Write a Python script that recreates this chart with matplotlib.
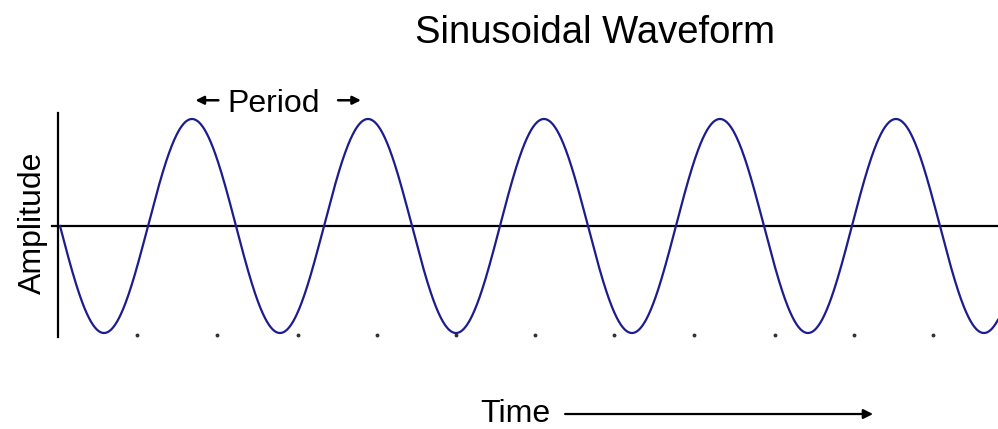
import numpy as np
import matplotlib
matplotlib.use("Agg")
import matplotlib.pyplot as plt

# waveform values (time in periods, amplitude normalised)
period = 1.0
amplitude = 1.0
start_time = 0.0
end_time = 5.33
tick_times = [0.44, 0.89, 1.35, 1.80, 2.25, 2.70, 3.15, 3.60, 4.06, 4.51, 4.96]
period_marks = [0.75, 1.75]  # the two peaks spanned by the "Period" label

LINE = "#1c1c8e"
FONT = ["Liberation Sans", "DejaVu Sans"]

fig = plt.figure(figsize=(9.98, 4.29), dpi=100)
fig.patch.set_facecolor("white")
ax = fig.add_axes([0, 0, 1, 1])
ax.set_xlim(-0.341, 5.33)
ax.set_ylim(-1.897, 2.112)
ax.axis("off")

t = np.linspace(start_time, end_time, 2000)
ax.plot(t, -amplitude * np.sin(2 * np.pi * t / period), color=LINE, lw=1.6, zorder=3)

# axes lines
ax.plot([-0.011, -0.011], [-1.04, 1.06], color="black", lw=1.6, zorder=2)
ax.plot([-0.045, 5.33], [0, 0], color="black", lw=1.6, zorder=2)
ax.plot(tick_times, [-1.02] * len(tick_times), ls="none", marker="o",
        ms=1.8, color="#333333", zorder=2)

# labels
ax.text(3.04, 1.80, "Sinusoidal Waveform", fontsize=27.5, family=FONT,
        ha="center", va="center")
ax.text(-0.155, 0.03, "Amplitude", fontsize=23, family=FONT, rotation=90,
        ha="center", va="center")

p0, p1 = period_marks
mid = (p0 + p1) / 2
ax.text(mid - 0.035, 1.14, "Period", fontsize=23, family=FONT,
        ha="center", va="center")
ax.annotate("", xy=(p0 + 0.02, 1.175), xytext=(p0 + 0.15, 1.175),
            arrowprops=dict(arrowstyle="-|>", color="black", lw=1.8,
                            mutation_scale=12, shrinkA=0, shrinkB=0))
ax.annotate("", xy=(p1 - 0.04, 1.175), xytext=(p1 - 0.17, 1.175),
            arrowprops=dict(arrowstyle="-|>", color="black", lw=1.8,
                            mutation_scale=12, shrinkA=0, shrinkB=0))

ax.text(2.59, -1.757, "Time", fontsize=23, family=FONT, ha="center", va="center")
ax.annotate("", xy=(4.62, -1.757), xytext=(2.87, -1.757),
            arrowprops=dict(arrowstyle="-|>", color="black", lw=1.6,
                            mutation_scale=14, shrinkA=0, shrinkB=0))

fig.savefig("out.png", dpi=100, facecolor="white")
